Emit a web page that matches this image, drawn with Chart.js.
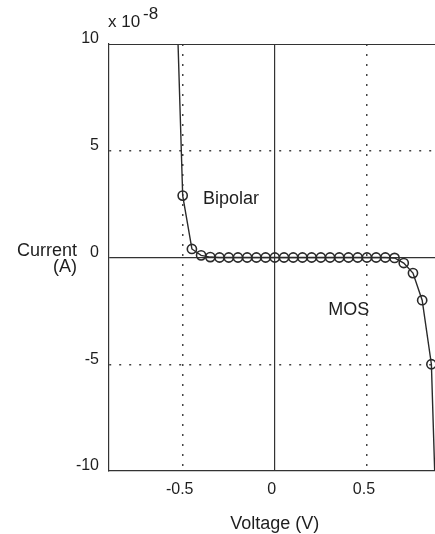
<!DOCTYPE html>
<html lang="en">
<head>
  <meta charset="UTF-8">
  <title>Current vs Voltage</title>
  <script src="https://cdn.jsdelivr.net/npm/chart.js"></script>
  <style>
    html, body { margin: 0; padding: 0; background: #fff; overflow: hidden; }
    #wrap { width: 450px; height: 534px; }
  </style>
</head>
<body>
  <div id="wrap">
    <canvas id="ivChart" width="450" height="534"></canvas>
  </div>

  <script>
// sweep voltage (V) and measured current in units of 1e-8 A
const voltage = [
  -0.55, -0.50, -0.45, -0.40, -0.35, -0.30, -0.25, -0.20, -0.15, -0.10,
  -0.05, 0.00, 0.05, 0.10, 0.15, 0.20, 0.25, 0.30, 0.35, 0.40,
  0.45, 0.50, 0.55, 0.60, 0.65, 0.70, 0.75, 0.80, 0.85, 0.90
];
const currentE8 = [
  17, 2.9, 0.4, 0.1, 0.02, 0, 0, 0, 0, 0,
  0, 0, 0, 0, 0, 0, 0, 0, 0, 0,
  0, 0, 0, 0, -0.02, -0.26, -0.73, -2.0, -5.0, -19
];
const xTicks = [-0.5, 0, 0.5];
const yTicks = [-10, -5, 0, 5, 10];

const FONT = '"Liberation Sans", Arial, sans-serif';
const INK = '#1e1e1e';

// text drawn around the plot: axis names, exponent, region labels
const plotText = {
  id: 'plotText',
  afterDraw(chart) {
    const { ctx, chartArea: a, scales: { x, y } } = chart;
    ctx.save();

    // frame top and right (left/bottom come from the axis borders)
    ctx.strokeStyle = '#333';
    ctx.lineWidth = 1.2;
    ctx.beginPath();
    ctx.moveTo(a.left, a.top + 0.5);
    ctx.lineTo(a.right, a.top + 0.5);
    ctx.lineTo(a.right, a.bottom);
    ctx.stroke();

    ctx.fillStyle = INK;
    ctx.textBaseline = 'alphabetic';

    // y-axis name
    const y0 = y.getPixelForValue(0);
    ctx.font = '18px ' + FONT;
    ctx.textAlign = 'right';
    ctx.fillText('Current', a.left - 32, y0 - 2);
    ctx.fillText('(A)', a.left - 32, y0 + 14);

    // x-axis name
    ctx.textAlign = 'center';
    ctx.fillText('Voltage (V)', x.getPixelForValue(0), a.bottom + 58);

    // region labels
    ctx.textAlign = 'left';
    ctx.fillText('Bipolar', x.getPixelForValue(-0.39), y.getPixelForValue(2.5));
    ctx.fillText('MOS', x.getPixelForValue(0.29), y.getPixelForValue(-2.7));

    // scale multiplier
    ctx.font = '17px ' + FONT;
    ctx.fillText('x 10', a.left - 1, a.top - 17);
    ctx.fillText('-8', a.left + 34, a.top - 25);

    ctx.restore();
  }
};

const ctx = document.getElementById('ivChart').getContext('2d');
new Chart(ctx, {
  type: 'line',
  data: {
    datasets: [{
      data: voltage.map((v, i) => ({ x: v, y: currentE8[i] })),
      borderColor: '#2a2a2a',
      borderWidth: 1.4,
      tension: 0,
      pointStyle: 'circle',
      pointRadius: 4.6,
      pointBorderWidth: 1.6,
      pointBorderColor: '#2a2a2a',
      pointBackgroundColor: 'rgba(255,255,255,0)'
    }]
  },
  options: {
    responsive: false,
    animation: false,
    layout: { padding: { top: 44, right: 9.4, left: 0, bottom: 0 } },
    plugins: {
      legend: { display: false },
      tooltip: { enabled: false }
    },
    scales: {
      x: {
        type: 'linear',
        min: -0.9,
        max: 0.9,
        afterBuildTicks: axis => { axis.ticks = xTicks.map(v => ({ value: v })); },
        afterFit: axis => { axis.height = 63; },
        grid: {
          drawTicks: false,
          color: c => c.tick && c.tick.value === 0 ? '#333' : '#444',
          lineWidth: c => c.tick && c.tick.value === 0 ? 1.2 : 1.5
        },
        border: {
          color: '#333',
          width: 1.2,
          dash: c => c.tick && c.tick.value === 0 ? [] : [2, 8]
        },
        ticks: {
          padding: 9,
          labelOffset: -3,
          color: INK,
          font: { family: FONT, size: 16 },
          callback: v => String(v)
        }
      },
      y: {
        type: 'linear',
        min: -10,
        max: 10,
        afterBuildTicks: axis => { axis.ticks = yTicks.map(v => ({ value: v })); },
        afterFit: axis => { axis.width = 109; },
        grid: {
          drawTicks: false,
          color: c => {
            if (!c.tick) return '#333';
            if (Math.abs(c.tick.value) === 10) return 'rgba(0,0,0,0)';
            return c.tick.value === 0 ? '#333' : '#444';
          },
          lineWidth: c => c.tick && c.tick.value === 0 ? 1.2 : 1.5
        },
        border: {
          color: '#333',
          width: 1.2,
          dash: c => c.tick && c.tick.value === 0 ? [] : [2, 8]
        },
        ticks: {
          padding: 10,
          labelOffset: -5,
          color: INK,
          font: { family: FONT, size: 16 },
          callback: v => String(v)
        }
      }
    }
  },
  plugins: [plotText]
});
  </script>
</body>
</html>
